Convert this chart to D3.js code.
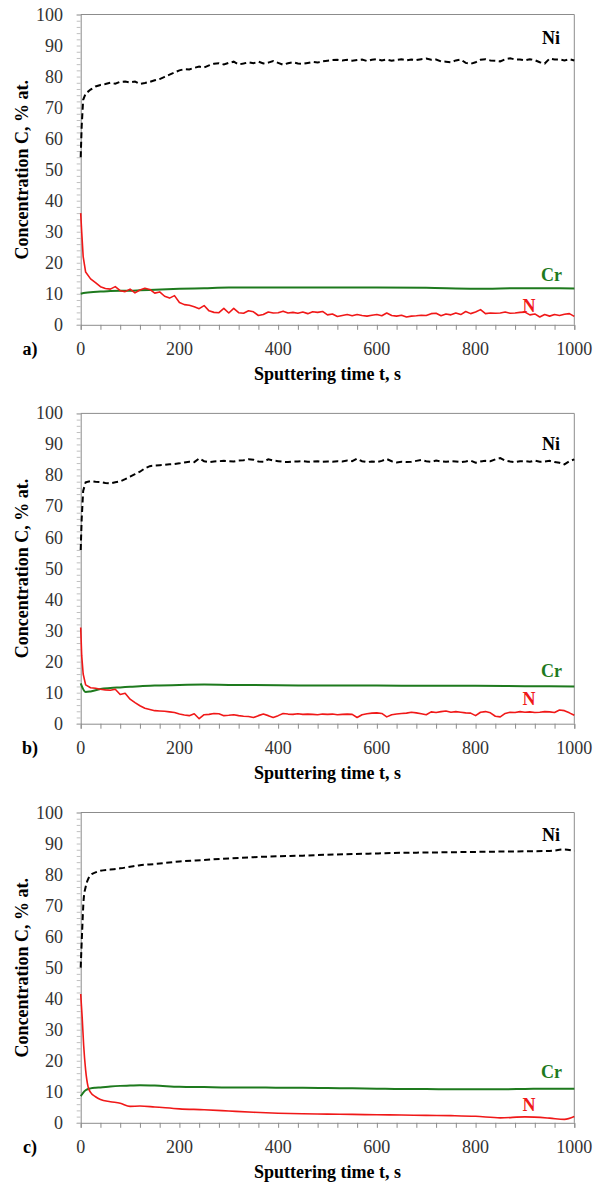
<!DOCTYPE html>
<html><head><meta charset="utf-8">
<script src="https://cdn.jsdelivr.net/npm/d3@7"></script>
<style>body{margin:0;background:#fff}svg{display:block}</style>
</head><body>
<svg id="chart" width="608" height="1185"></svg>
<script>
// ---- data ----
const panelLabels = ["a)", "b)", "c)"];
const xTickLabels = [0, 200, 400, 600, 800, 1000];
const yTickLabels = [0, 10, 20, 30, 40, 50, 60, 70, 80, 90, 100];
const xTitle = "Sputtering time t, s";
const yTitle = "Concentration C, % at.";
const seriesNames = ["Ni", "Cr", "N"];

const tFine = [0,2,5,10,20,30,40,50,60,70,80,90,100,110,120,130,140,150,160,170,180,190,200,210,220,230,240,250,260,270,280,290,300,310,320,330,340,350,360,370,380,390,400,410,420,430,440,450,460,470,480,490,500,510,520,530,540,550,560,570,580,590,600,610,620,630,640,650,660,670,680,690,700,710,720,730,740,750,760,770,780,790,800,810,820,830,840,850,860,870,880,890,900,910,920,930,940,950,960,970,980,990,1000];
const tCoarse = [0,10,20,40,60,80,100,120,150,200,250,300,400,500,600,700,800,900,1000];
const tC = [0,3,6,10,15,20,30,40,60,80,100,120,150,200,250,300,350,400,450,500,550,600,650,700,750,800,850,900,950,980,1000];

// panel a
const niA = [54,64,72.5,74.5,75.8,76.8,77.3,77.6,78,77.7,78.3,78.4,78.1,78.4,77.6,77.9,78.3,78.8,79.2,79.9,80.6,81.3,82,82.4,82.3,82.8,83.2,82.9,83.6,84.1,84.3,83.9,84.4,84.8,83.9,84.2,84.6,84.3,84.8,84.2,84.5,85,84.4,83.8,84.3,84.6,84.2,84.1,84.4,84.7,84.5,84.9,85.1,85.3,85.4,85.2,85.4,85.1,85.3,85.5,85,85.4,85.6,85.2,85.5,85.1,85.4,85.6,85.2,85.5,85.3,85.6,85.8,85.4,85.5,84.9,84.8,84.6,85.2,85.5,84.4,84.1,84.6,85.4,85.6,85.2,85.1,84.9,85.6,85.9,85.5,85.5,85.2,85.6,85.3,84.6,84.2,85.8,85.5,85.5,85.2,85.6,85.2];
const nA = [36,30,22,17,14.8,13.6,12.3,11.7,11.5,12.3,11,10.7,11.5,10.3,11.2,11.8,11.4,10.2,10.6,9.2,8.6,9.4,7.2,6.5,6.3,5.8,5.2,6.2,4.5,4,3.9,5.3,3.8,5.3,3.9,3.7,4.5,4.2,3,3.3,4.1,3.8,3.9,4.4,3.8,4,3.7,4.1,3.6,4.2,4,4.3,3.2,3.5,2.7,3,3.3,2.9,3.3,3,2.8,3.1,3.3,2.9,3.8,3,2.8,3.1,2.5,2.8,2.9,3.1,3,3.6,3.7,2.9,3.5,3.2,3.8,3.3,4.3,3.6,4.1,4.9,3.6,3.8,3.7,3.8,4.1,3.7,3.8,4,4.1,3.2,3.5,2.5,3.3,2.8,3.3,3,3.4,3.6,2.7];
const crA = [10,10.3,10.5,10.7,10.9,11,11,11.1,11.3,11.6,11.8,12,12,12,12,11.9,11.6,11.8,11.7];

// panel b
const niB = [56,66,75,77.8,78.2,78,77.9,77.6,77.4,77.8,78.1,78.8,79.6,80.4,81.2,82.3,83,83.2,83.3,83.4,83.6,83.7,83.9,84.2,84.4,84.3,85.5,84.6,84.3,84.5,84.6,84.7,84.6,84.5,84.8,84.9,85.2,85.1,84.5,84.4,85.2,84.8,84.6,84.4,84.3,84.5,84.5,84.6,84.4,84.5,84.6,84.4,84.5,84.4,84.6,84.5,84.8,84.6,85.4,84.6,84.3,84.5,84.3,84.7,85.3,84.6,84.2,84.4,84.3,84.4,84.7,85,84.6,84.4,84.8,84.5,84.4,84.6,84.5,84.3,84.5,84.8,84.1,84.5,84.7,84.6,85.2,85.6,84.8,84.5,84.3,84.6,84.6,84.4,84.8,84.4,84.5,84.7,84.3,84.1,83.6,84.6,85.2];
const nB = [31,22,16,12.5,11.6,11.4,11.1,10.9,10.8,11.1,9.4,9.8,7.9,6.8,5.8,5,4.6,4.2,4.1,4,3.8,3.6,3.1,2.8,2.6,3.2,1.6,2.9,3,3.3,3.2,2.6,2.7,2.9,2.6,2.4,2.3,2,2.6,3.1,2.6,2,2.6,3.3,3.1,3,3.2,3,3.1,3,2.9,3.1,3,3.1,2.9,3,3.1,3,2,2.9,3.2,3.4,3.5,3.3,2.2,2.9,3.1,3.3,3.4,3.7,3.5,3.2,2.9,3.8,3.6,3.9,4.1,3.7,3.9,3.7,3.5,3.4,2.6,3.7,3.9,3.5,2.4,2.2,3.3,3.7,3.6,3.9,3.7,3.8,3.6,3.7,3.9,3.8,3.6,4.4,4.2,3.5,2.7];
const crB = [13,10.2,10.4,11.2,11.5,11.7,11.9,12.1,12.3,12.5,12.6,12.5,12.4,12.3,12.3,12.2,12.2,12.1,12.0];

// panel c
const niC = [50,62,72,76,78.5,79.8,80.7,81.2,81.6,82,82.5,83,83.4,84.2,84.7,85.2,85.6,85.9,86.1,86.4,86.6,86.8,87,87.1,87.2,87.3,87.4,87.5,87.6,88.1,87.6];
const nC = [41.5,34,25,17,11.6,9.8,8.4,7.5,6.8,6.3,5.3,5.4,5.1,4.5,4.2,3.8,3.4,3.1,2.9,2.8,2.7,2.6,2.5,2.4,2.3,2.1,1.6,1.9,1.5,1.1,2.0];
const crC = [8.6,9.2,9.9,10.5,10.9,11.1,11.3,11.4,11.7,11.9,12.0,12.1,12.0,11.6,11.5,11.4,11.4,11.3,11.3,11.2,11.1,11.0,10.9,10.9,10.8,10.8,10.8,10.9,11.0,11.0,11.0];

// label anchor values [t, value] per panel for Ni, Cr, N
const labelPosNi = [[953, 92.4], [953, 90.0], [953, 92.8]];
const labelPosCr = [[954, 16.1], [954, 16.9], [954, 16.4]];
const labelPosN  = [[908, 5.9], [908, 8.0], [908, 5.7]];

const panels = [
  {ni: [tFine, niA], n: [tFine, nA], cr: [tCoarse, crA], smooth: false},
  {ni: [tFine, niB], n: [tFine, nB], cr: [tCoarse, crB], smooth: false},
  {ni: [tC, niC], n: [tC, nC], cr: [tC, crC], smooth: true}
];

// ---- layout ----
const svg = d3.select("#chart");
const left = 80.7, right = 574.3, plotH = 310.3;
const tops = [14.5, 413.4, 812.5];
const axisColor = "#8c8c8c";
const serif = "'Liberation Serif','Times New Roman',serif";
const colors = {Ni: "#000", Cr: "#1e7a1e", N: "#f01818"};

panels.forEach((p, i) => {
  const top = tops[i], bottom = top + plotH;
  const x = d3.scaleLinear().domain([0, 1000]).range([left, right]);
  const y = d3.scaleLinear().domain([0, 100]).range([bottom, top]);
  const g = svg.append("g");

  // frame (top, right)
  g.append("path").attr("d", `M${left},${top}H${right}V${bottom}`)
    .attr("fill", "none").attr("stroke", axisColor).attr("stroke-width", 1);

  // x axis
  const xa = g.append("g").attr("transform", `translate(0,${bottom})`)
    .call(d3.axisBottom(x).tickValues(d3.range(0, 1001, 40)).tickSize(5).tickFormat(""));
  xa.selectAll("path,line").attr("stroke", axisColor);
  g.selectAll(".xlab").data(xTickLabels).enter().append("text")
    .attr("x", d => x(d)).attr("y", bottom + 30).attr("text-anchor", "middle")
    .attr("font-family", serif).attr("font-size", 18).attr("fill", "#333").text(d => d);

  // y axis
  const ya = g.append("g").attr("transform", `translate(${left},0)`)
    .call(d3.axisLeft(y).tickValues(d3.range(0, 101, 2)).tickSize(4).tickFormat(""));
  ya.selectAll("path,line").attr("stroke", axisColor);
  ya.selectAll("line").attr("stroke", "#c0c0c0");
  g.selectAll(".ylab").data(yTickLabels).enter().append("text")
    .attr("x", 63).attr("y", d => y(d) + 6).attr("text-anchor", "end")
    .attr("font-family", serif).attr("font-size", 18).attr("fill", "#333").text(d => d);

  // titles
  g.append("text").attr("x", (left + right) / 2).attr("y", bottom + 55)
    .attr("text-anchor", "middle").attr("font-family", serif).attr("font-size", 18)
    .attr("font-weight", "bold").text(xTitle);
  g.append("text").attr("transform", `translate(28,${(top + bottom) / 2}) rotate(-90)`)
    .attr("text-anchor", "middle").attr("font-family", serif).attr("font-size", 18)
    .attr("font-weight", "bold").text(yTitle);
  g.append("text").attr("x", 30).attr("y", bottom + 30).attr("text-anchor", "middle")
    .attr("font-family", serif).attr("font-size", 18).attr("font-weight", "bold").text(panelLabels[i]);

  const line = d3.line().x(d => x(d[0])).y(d => y(d[1]))
    .curve(p.smooth ? d3.curveMonotoneX : d3.curveLinear);
  const lineS = d3.line().x(d => x(d[0])).y(d => y(d[1])).curve(d3.curveMonotoneX);
  const zip = s => s[0].map((t, k) => [t, s[1][k]]);

  g.append("path").datum(zip(p.cr)).attr("d", lineS).attr("fill", "none")
    .attr("stroke", colors.Cr).attr("stroke-width", 2);
  g.append("path").datum(zip(p.n)).attr("d", line).attr("fill", "none")
    .attr("stroke", colors.N).attr("stroke-width", 1.6).attr("stroke-linejoin", "round");
  g.append("path").datum(zip(p.ni)).attr("d", line).attr("fill", "none")
    .attr("stroke", colors.Ni).attr("stroke-width", 2).attr("stroke-dasharray", "6,3.5");

  // series labels
  [[seriesNames[0], labelPosNi[i]], [seriesNames[1], labelPosCr[i]], [seriesNames[2], labelPosN[i]]]
    .forEach(([name, pos]) => {
      g.append("text").attr("x", x(pos[0])).attr("y", y(pos[1]) + 6).attr("text-anchor", "middle")
        .attr("font-family", serif).attr("font-size", 18).attr("font-weight", "bold")
        .attr("fill", colors[name]).text(name);
    });
});
</script>
</body></html>
